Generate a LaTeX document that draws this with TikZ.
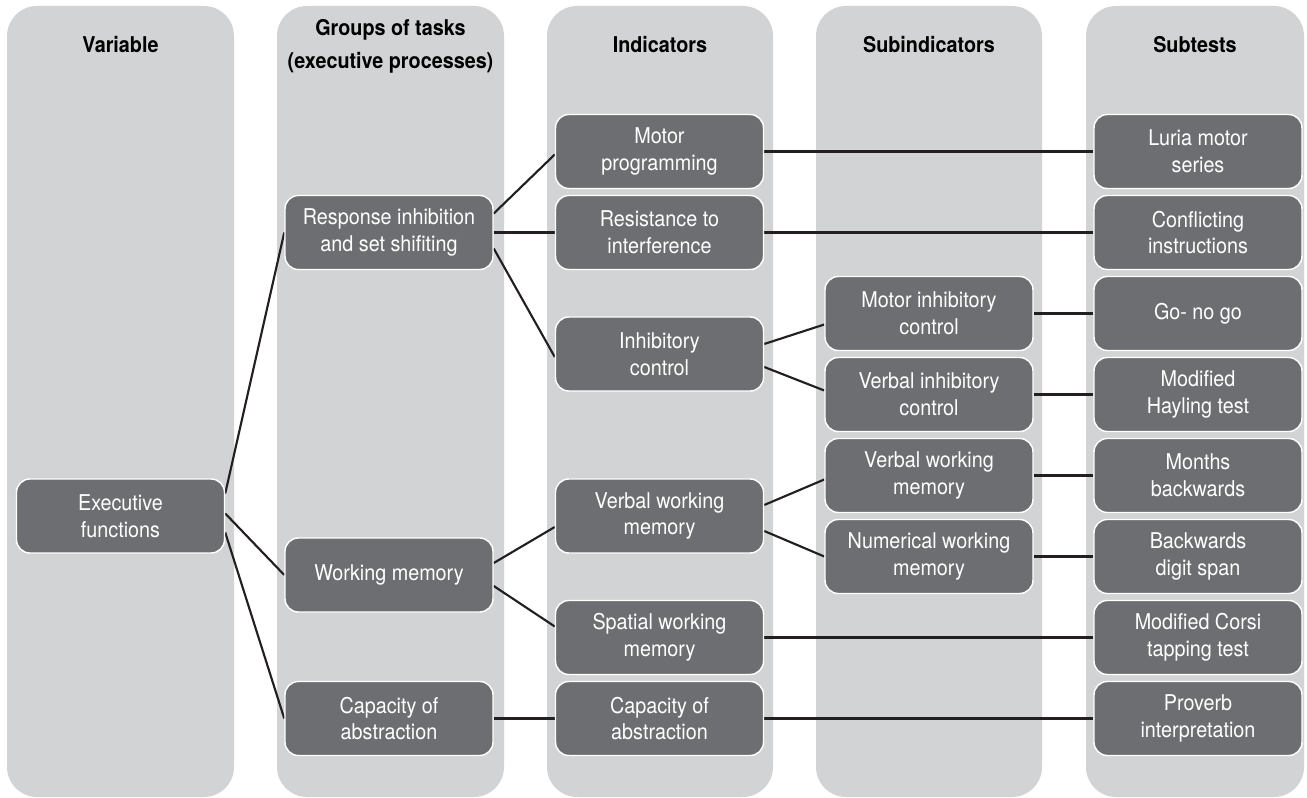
\documentclass[tikz,border=0pt]{standalone}
\usepackage{fontspec}
\setmainfont[FakeStretch=0.91]{TeX Gyre Heros}
\usetikzlibrary{calc}
\pgfdeclarelayer{cols}
\pgfdeclarelayer{wires}
\pgfsetlayers{cols,wires,main}
\definecolor{colgray}{RGB}{209,211,212}
\definecolor{boxgray}{RGB}{109,110,113}
\definecolor{wirec}{RGB}{35,31,32}
\begin{document}
\begin{tikzpicture}[x=0.75pt,y=-0.75pt,
  colbg/.style={fill=colgray, rounded corners=22.5pt},
  item/.style={draw=white, line width=1.1pt, fill=boxgray, rounded corners=10pt,
    minimum width=156pt, minimum height=55.5pt, inner sep=0pt, align=center,
    text=white, font=\fontsize{16.3}{20}\selectfont},
  head/.style={align=center, text=black, inner sep=0pt,
    font=\fontsize{16.3}{25}\selectfont\bfseries},
  wire/.style={draw=wirec, line width=1.6pt}]
\useasboundingbox (0,0) rectangle (1307,798);
% columns
\begin{pgfonlayer}{cols}
\fill[colbg] (7,6) rectangle (234,797);
\fill[colbg] (277,6) rectangle (504,797);
\fill[colbg] (547,6) rectangle (773,797);
\fill[colbg] (816,6) rectangle (1042,797);
\fill[colbg] (1086,6) rectangle (1304,797);
\end{pgfonlayer}
% headers
\node[head] (h1) at (120.5,45) {Variable};
\node[head] (h2) at (390.5,46) {Groups of tasks\\(executive processes)};
\node[head] (h3) at (660,45) {Indicators};
\node[head] (h4) at (929,45) {Subindicators};
\node[head] (h5) at (1195,45) {Subtests};
% column 1
\node[item] (exec) at (120.5,516) {Executive\\functions};
% column 2
\node[item] (resp) at (389,232.5) {Response inhibition\\and set shifiting};
\node[item] (wm) at (389,575) {Working memory};
\node[item] (cap2) at (389,718.5) {Capacity of\\abstraction};
% column 3
\node[item] (motor) at (659.5,151.5) {Motor\\programming};
\node[item] (resist) at (659.5,232.5) {Resistance to\\interference};
\node[item] (inhib) at (659.5,354) {Inhibitory\\control};
\node[item] (vwm) at (659.5,516) {Verbal working\\memory};
\node[item] (spat) at (659.5,637.5) {Spatial working\\memory};
\node[item] (cap3) at (659.5,718.5) {Capacity of\\abstraction};
% column 4
\node[item] (motinh) at (929,313.5) {Motor inhibitory\\control};
\node[item] (verbinh) at (929,394.5) {Verbal inhibitory\\control};
\node[item] (vwm4) at (929,475.5) {Verbal working\\memory};
\node[item] (numwm) at (929,556.5) {Numerical working\\memory};
% column 5
\node[item] (luria) at (1198,151.5) {Luria motor\\series};
\node[item] (confl) at (1198,232.5) {Conflicting\\instructions};
\node[item] (gonogo) at (1198,313.5) {Go- no go};
\node[item] (hayl) at (1198,394.5) {Modified\\Hayling test};
\node[item] (months) at (1198,475.5) {Months\\backwards};
\node[item] (digit) at (1198,556.5) {Backwards\\digit span};
\node[item] (corsi) at (1198,637.5) {Modified Corsi\\tapping test};
\node[item] (prov) at (1198,718.5) {Proverb\\interpretation};
% connectors
\begin{pgfonlayer}{wires}
\draw[wire] ($(exec.east)+(0,-22.5)$) -- (resp.west);
\draw[wire] ($(exec.east)+(0,-2.5)$) -- (wm.west);
\draw[wire] ($(exec.east)+(0,16.5)$) -- (cap2.west);
\draw[wire] ($(resp.east)+(0,-19)$) -- ($(motor.west)+(0,3)$);
\draw[wire] (resp.east) -- (resist.west);
\draw[wire] ($(resp.east)+(0,16)$) -- ($(inhib.west)+(0,3)$);
\draw[wire] ($(wm.east)+(0,-12)$) -- ($(vwm.west)+(0,11)$);
\draw[wire] ($(wm.east)+(0,11)$) -- ($(spat.west)+(0,-11)$);
\draw[wire] (cap2.east) -- (cap3.west);
\draw[wire] (motor.east) -- (luria.west);
\draw[wire] (resist.east) -- (confl.west);
\draw[wire] ($(inhib.east)+(0,-10)$) -- ($(motinh.west)+(0,11)$);
\draw[wire] ($(inhib.east)+(0,13)$) -- ($(verbinh.west)+(0,-4)$);
\draw[wire] ($(vwm.east)+(0,-11)$) -- ($(vwm4.west)+(0,4)$);
\draw[wire] ($(vwm.east)+(0,15)$) -- (numwm.west);
\draw[wire] (spat.east) -- (corsi.west);
\draw[wire] (cap3.east) -- (prov.west);
\draw[wire] (motinh.east) -- (gonogo.west);
\draw[wire] (verbinh.east) -- (hayl.west);
\draw[wire] (vwm4.east) -- (months.west);
\draw[wire] (numwm.east) -- (digit.west);
\end{pgfonlayer}
\end{tikzpicture}
\end{document}
